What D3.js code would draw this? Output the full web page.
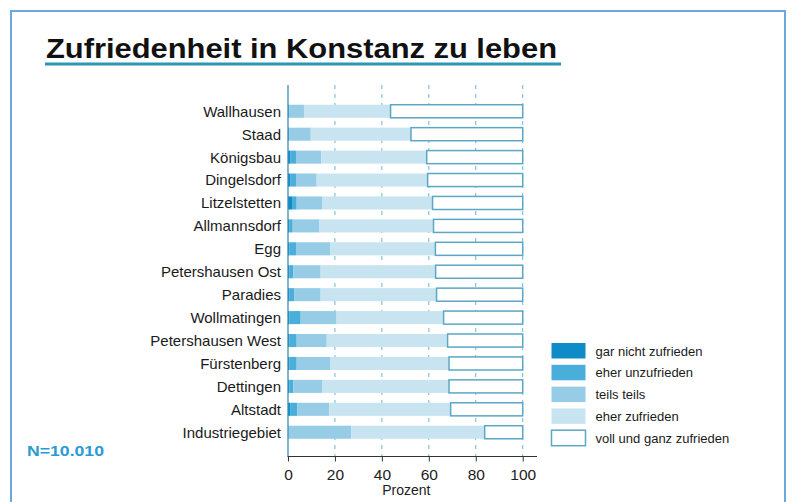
<!DOCTYPE html>
<html>
<head>
<meta charset="utf-8">
<script src="https://cdn.jsdelivr.net/npm/d3@7"></script>
<style>
  body { margin: 0; background: #fff; }
  svg { display: block; font-family: "Liberation Sans", Arial, sans-serif; }
</style>
</head>
<body>
<svg id="chart" width="792" height="502"></svg>
<script>
// Stadtteile (top to bottom)
const districts = [
  "Wallhausen", "Staad", "Königsbau", "Dingelsdorf", "Litzelstetten",
  "Allmannsdorf", "Egg", "Petershausen Ost", "Paradies", "Wollmatingen",
  "Petershausen West", "Fürstenberg", "Dettingen", "Altstadt", "Industriegebiet"
];

const categories = [
  "gar nicht zufrieden", "eher unzufrieden", "teils teils",
  "eher zufrieden", "voll und ganz zufrieden"
];

// shares in percent, per category, same order as districts
const garNicht   = [0.0, 0.0, 0.9, 1.1, 2.0, 0.5, 0.5, 0.5, 0.5, 0.5, 0.5, 0.5, 0.5, 1.1, 0.0];
const eherUnzuf  = [0.5, 0.5, 2.5, 2.3, 1.7, 1.5, 2.9, 1.8, 2.1, 4.9, 3.2, 3.2, 1.8, 2.9, 0.0];
const teilsTeils = [6.3, 9.2, 10.8, 8.8, 10.8, 11.4, 14.5, 11.6, 11.3, 15.3, 12.8, 14.2, 12.2, 13.6, 27.0];
const eherZuf    = [36.9, 42.7, 44.9, 47.3, 47.1, 48.6, 44.9, 49.0, 49.4, 45.6, 51.5, 50.7, 54.1, 51.7, 56.8];
const vollZuf    = [56.3, 47.6, 40.9, 40.5, 38.4, 38.0, 37.2, 37.1, 36.7, 33.7, 32.0, 31.4, 31.4, 30.7, 16.2];

const xTicks = [0, 20, 40, 60, 80, 100];

const colors = ["#0f8cc7", "#4aaedb", "#96cce5", "#c8e4f1", "#ffffff"];

const table = districts.map((name, i) => ({
  name,
  values: [garNicht[i], eherUnzuf[i], teilsTeils[i], eherZuf[i], vollZuf[i]]
}));

const svg = d3.select("#chart");

// outer frame
svg.append("rect")
  .attr("x", 11).attr("y", 11)
  .attr("width", 774).attr("height", 520)
  .attr("fill", "none")
  .attr("stroke", "#6ea7dc")
  .attr("stroke-width", 2);

// title + underline
svg.append("text")
  .attr("x", 46).attr("y", 58)
  .attr("font-size", 27).attr("font-weight", "bold")
  .attr("fill", "#111")
  .attr("textLength", 511)
  .attr("lengthAdjust", "spacingAndGlyphs")
  .text("Zufriedenheit in Konstanz zu leben");

svg.append("line")
  .attr("x1", 45).attr("x2", 561)
  .attr("y1", 64).attr("y2", 64)
  .attr("stroke", "#2b97b6").attr("stroke-width", 3);

// scales
const x = d3.scaleLinear().domain([0, 100]).range([288, 522.7]);
const y = d3.scaleBand()
  .domain(districts)
  .range([99.8, 443.7])
  .paddingInner(0.43)
  .paddingOuter(0.215);

const plotTop = 85, plotBottom = 456.5;

// dashed grid lines
svg.append("g")
  .selectAll("line")
  .data(xTicks.slice(1))
  .join("line")
  .attr("x1", d => x(d)).attr("x2", d => x(d))
  .attr("y1", plotTop).attr("y2", plotBottom)
  .attr("stroke", "#6cb6d6")
  .attr("stroke-width", 1)
  .attr("stroke-dasharray", "4,5");

// stacked bars
const stack = d3.stack()
  .keys(d3.range(5))
  .value((d, k) => d.values[k]);
const series = stack(table);

series.forEach((s, k) => {
  svg.append("g")
    .selectAll("rect")
    .data(s)
    .join("rect")
    .attr("x", d => x(d[0]))
    .attr("y", d => y(d.data.name))
    .attr("width", d => Math.max(0, x(d[1]) - x(d[0])))
    .attr("height", y.bandwidth())
    .attr("fill", colors[k])
    .attr("stroke", k === 4 ? "#5aa7c6" : "none")
    .attr("stroke-width", k === 4 ? 1.5 : 0);
});

// category labels
svg.append("g")
  .selectAll("text")
  .data(districts)
  .join("text")
  .attr("x", 281)
  .attr("y", d => y(d) + y.bandwidth() / 2)
  .attr("dy", "0.36em")
  .attr("text-anchor", "end")
  .attr("font-size", 15)
  .attr("fill", "#1a1a1a")
  .text(d => d);

// y axis line
svg.append("line")
  .attr("x1", 288).attr("x2", 288)
  .attr("y1", plotTop).attr("y2", plotBottom)
  .attr("stroke", "#3c8db0").attr("stroke-width", 1.3);

// x axis
const xAxis = svg.append("g")
  .attr("transform", `translate(0,${plotBottom})`)
  .call(d3.axisBottom(x).tickValues(xTicks).tickSize(5).tickPadding(7).tickSizeOuter(0));
xAxis.select(".domain").remove();
xAxis.append("line")
  .attr("x1", 287.5).attr("x2", 537)
  .attr("stroke", "#333").attr("stroke-width", 1.2);
xAxis.selectAll(".tick line").attr("stroke", "#333");
xAxis.selectAll(".tick text")
  .attr("font-size", 15.5)
  .attr("font-family", "Liberation Sans, Arial, sans-serif")
  .attr("fill", "#222");

svg.append("text")
  .attr("x", x(50) + 1).attr("y", 495)
  .attr("text-anchor", "middle")
  .attr("font-size", 14)
  .attr("fill", "#222")
  .text("Prozent");

// legend
const legend = svg.append("g")
  .selectAll("g")
  .data(categories)
  .join("g")
  .attr("transform", (d, i) => `translate(551.5,${343 + i * 21.8})`);

legend.append("rect")
  .attr("width", 34).attr("height", 15.5)
  .attr("fill", (d, i) => colors[i])
  .attr("stroke", (d, i) => i === 4 ? "#5aa7c6" : "none")
  .attr("stroke-width", 1.5);

legend.append("text")
  .attr("x", 44).attr("y", 8)
  .attr("dy", "0.36em")
  .attr("font-size", 13)
  .attr("fill", "#1a1a1a")
  .text(d => d);

// sample size
svg.append("text")
  .attr("x", 27).attr("y", 456)
  .attr("font-size", 15).attr("font-weight", "bold")
  .attr("fill", "#2a9bd2")
  .attr("textLength", 77)
  .attr("lengthAdjust", "spacingAndGlyphs")
  .text("N=10.010");
</script>
</body>
</html>
